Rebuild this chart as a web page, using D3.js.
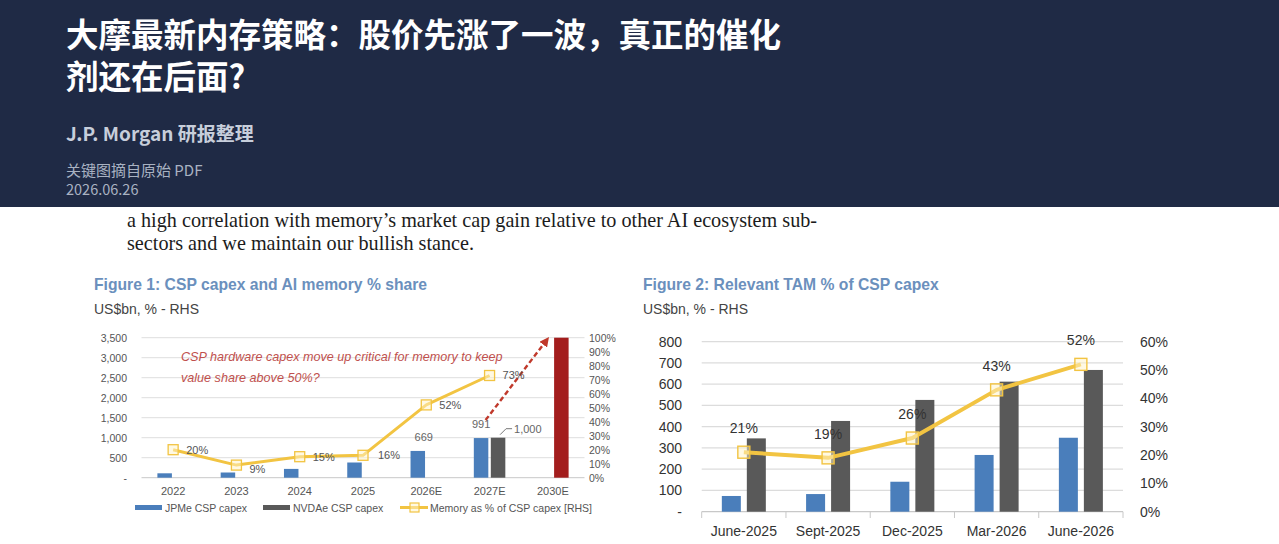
<!DOCTYPE html>
<html>
<head>
<meta charset="utf-8">
<script src="https://cdn.jsdelivr.net/npm/d3@7"></script>
<style>
  html, body { margin: 0; padding: 0; background: #fff; overflow: hidden; }
  svg { display: block; }
</style>
</head>
<body>
<script>
// figure 1 data
var years = ["2022", "2023", "2024", "2025", "2026E", "2027E", "2030E"];
var jpmCapex = [110, 130, 220, 380, 669, 991, null];
var nvdaCapex = [null, null, null, null, null, 1000, 3500];
var jpmLabels = ["", "", "", "", "669", "991", ""];
var nvdaLabels = ["", "", "", "", "", "1,000", ""];
var memShare = [20, 9, 15, 16, 52, 73, null];
var fig1LeftTicks = [0, 500, 1000, 1500, 2000, 2500, 3000, 3500];
var fig1RightTicks = [0, 10, 20, 30, 40, 50, 60, 70, 80, 90, 100];

// figure 2 data
var quarters = ["June-2025", "Sept-2025", "Dec-2025", "Mar-2026", "June-2026"];
var tamBlue = [74, 83, 141, 267, 348];
var capexGray = [345, 427, 526, 612, 667];
var tamShare = [21, 19, 26, 43, 52];
var fig2LeftTicks = [0, 100, 200, 300, 400, 500, 600, 700, 800];
var fig2RightTicks = [0, 10, 20, 30, 40, 50, 60];

var W = 1279, H = 544;
var BLUE = "#4a7ebb", GRAY = "#595959", DARKRED = "#a31d1d", GOLD = "#f2c442";
var SANS = "'Liberation Sans', Arial, sans-serif";
var CJK = "'Noto Sans CJK SC', sans-serif";

var svg = d3.select("body").append("svg").attr("width", W).attr("height", H);

// header band
svg.append("rect").attr("x", 0).attr("y", 0).attr("width", W).attr("height", 207).attr("fill", "#1f2a45");
var head = svg.append("g").attr("font-family", CJK);
var ttl = head.append("text").attr("font-size", 32.5).attr("font-weight", 700).attr("fill", "#fff");
ttl.append("tspan").attr("x", 66).attr("y", 47).text("大摩最新内存策略：股价先涨了一波，真正的催化");
ttl.append("tspan").attr("x", 66).attr("y", 89).text("剂还在后面?");
head.append("text").attr("x", 66).attr("y", 141).attr("font-size", 19).attr("font-weight", 600)
  .attr("fill", "#c7cedb").text("J.P. Morgan 研报整理");
head.append("text").attr("x", 66).attr("y", 176).attr("font-size", 15)
  .attr("fill", "#a9b2c2").text("关键图摘自原始 PDF");
head.append("text").attr("x", 66).attr("y", 195).attr("font-size", 14.5)
  .attr("fill", "#a9b2c2").text("2026.06.26");

// body text
var body = svg.append("g").attr("font-family", "'Liberation Serif', 'Times New Roman', serif")
  .attr("font-size", 20.2).attr("fill", "#1c1c1c");
body.append("text").attr("x", 127).attr("y", 227)
  .text("a high correlation with memory\u2019s market cap gain relative to other AI ecosystem sub-");
body.append("text").attr("x", 127).attr("y", 250).text("sectors and we maintain our bullish stance.");

function figTitle(x, title) {
  svg.append("text").attr("x", x).attr("y", 290).attr("font-family", SANS).attr("font-size", 15.7)
    .attr("font-weight", 700).attr("fill", "#6b90bd").text(title);
  svg.append("text").attr("x", x).attr("y", 314).attr("font-family", SANS).attr("font-size", 14)
    .attr("fill", "#444").text("US$bn, % - RHS");
}
figTitle(94, "Figure 1: CSP capex and AI memory % share");
figTitle(643, "Figure 2: Relevant TAM % of CSP capex");

svg.append("defs").append("marker").attr("id", "arrow").attr("viewBox", "0 0 10 10")
  .attr("refX", 8).attr("refY", 5).attr("markerWidth", 4).attr("markerHeight", 4)
  .attr("orient", "auto").append("path").attr("d", "M0,0L10,5L0,10z").attr("fill", "#c0392b");

// ---------- figure 1 ----------
var x1 = d3.scaleBand().domain(years).range([141.5, 584.5]);
var yL1 = d3.scaleLinear().domain([0, 3500]).range([477.7, 337.7]);
var yR1 = d3.scaleLinear().domain([0, 100]).range([477.7, 337.7]);
var f1 = svg.append("g").attr("font-family", SANS);

f1.selectAll(".grid").data(fig1LeftTicks).enter().append("line")
  .attr("x1", 141.5).attr("x2", 584.5).attr("y1", function(d){ return yL1(d); }).attr("y2", function(d){ return yL1(d); })
  .attr("stroke", function(d){ return d === 0 ? "#c8c8c8" : "#dedede"; }).attr("stroke-width", 1);

f1.append("g").attr("transform", "translate(127,0)")
  .call(d3.axisLeft(yL1).tickValues(fig1LeftTicks).tickSize(0).tickPadding(0)
    .tickFormat(function(d){ return d === 0 ? "-" : d3.format(",")(d); }))
  .call(function(g){ g.select(".domain").remove(); })
  .selectAll("text").attr("font-size", 10.5).attr("fill", "#555").attr("font-family", SANS);

f1.append("g").attr("transform", "translate(589,0)")
  .call(d3.axisRight(yR1).tickValues(fig1RightTicks).tickSize(0).tickPadding(0)
    .tickFormat(function(d){ return d + "%"; }))
  .call(function(g){ g.select(".domain").remove(); })
  .selectAll("text").attr("font-size", 10.5).attr("fill", "#555").attr("font-family", SANS);

f1.append("g").attr("transform", "translate(0,477.7)")
  .call(d3.axisBottom(x1).tickSize(0).tickPadding(10))
  .call(function(g){ g.select(".domain").remove(); })
  .selectAll("text").attr("font-size", 11).attr("fill", "#555").attr("font-family", SANS);

var bw1 = 14.5, off1 = 8.5;
f1.selectAll(".jpm").data(years).enter().filter(function(d, i){ return jpmCapex[i] != null; })
  .append("rect")
  .attr("x", function(d){ return x1(d) + x1.bandwidth() / 2 - off1 - bw1 / 2; })
  .attr("y", function(d){ return yL1(jpmCapex[years.indexOf(d)]); })
  .attr("width", bw1)
  .attr("height", function(d){ return yL1(0) - yL1(jpmCapex[years.indexOf(d)]); })
  .attr("fill", BLUE);

f1.selectAll(".nvda").data(years).enter().filter(function(d, i){ return nvdaCapex[i] != null; })
  .append("rect")
  .attr("x", function(d){ return x1(d) + x1.bandwidth() / 2 + off1 - bw1 / 2; })
  .attr("y", function(d){ return yL1(nvdaCapex[years.indexOf(d)]); })
  .attr("width", bw1)
  .attr("height", function(d){ return yL1(0) - yL1(nvdaCapex[years.indexOf(d)]); })
  .attr("fill", function(d){ return d === "2030E" ? DARKRED : GRAY; });

// bar labels
years.forEach(function(d, i){
  var cx = x1(d) + x1.bandwidth() / 2;
  if (jpmLabels[i]) {
    f1.append("text").attr("x", cx - off1 + (i === 4 ? 6 : 0)).attr("y", yL1(jpmCapex[i]) - 10)
      .attr("text-anchor", "middle").attr("font-size", 11).attr("fill", "#666").text(jpmLabels[i]);
  }
  if (nvdaLabels[i]) {
    var tx = cx + off1, ty = yL1(nvdaCapex[i]);
    f1.append("path").attr("d", "M" + (tx + 2) + "," + (ty - 3) + "L" + (tx + 8) + "," + (ty - 9) + "L" + (tx + 14) + "," + (ty - 9))
      .attr("fill", "none").attr("stroke", "#777").attr("stroke-width", 1);
    f1.append("text").attr("x", tx + 16).attr("y", ty - 5).attr("font-size", 11).attr("fill", "#666").text(nvdaLabels[i]);
  }
});

// red dashed arrow toward 2030E bar
f1.append("line")
  .attr("x1", x1("2027E") + x1.bandwidth() / 2 - 4).attr("y1", yL1(1440))
  .attr("x2", x1("2030E") + x1.bandwidth() / 2 - 5).attr("y2", yL1(3480))
  .attr("stroke", "#c0392b").attr("stroke-width", 2.4).attr("stroke-dasharray", "5,3")
  .attr("marker-end", "url(#arrow)");

var line1 = d3.line()
  .defined(function(d){ return d.v != null; })
  .x(function(d){ return x1(d.k) + x1.bandwidth() / 2; })
  .y(function(d){ return yR1(d.v); });
var mem = years.map(function(k, i){ return { k: k, v: memShare[i] }; });
f1.append("path").datum(mem).attr("d", line1).attr("fill", "none")
  .attr("stroke", GOLD).attr("stroke-width", 3).attr("stroke-linejoin", "round");
var memPts = mem.filter(function(d){ return d.v != null; });
f1.selectAll(".mk").data(memPts).enter().append("rect")
  .attr("x", function(d){ return x1(d.k) + x1.bandwidth() / 2 - 5; })
  .attr("y", function(d){ return yR1(d.v) - 5; })
  .attr("width", 10).attr("height", 10)
  .attr("fill", "rgba(255,244,200,0.5)").attr("stroke", GOLD).attr("stroke-width", 1.3);
f1.selectAll(".ml").data(memPts).enter().append("text")
  .attr("x", function(d){ return x1(d.k) + x1.bandwidth() / 2 + (d.k === "2025" ? 15 : 13); })
  .attr("y", function(d){ return yR1(d.v) + (d.k === "2023" ? 4 : 0); })
  .attr("dy", "0.35em").attr("font-size", 11).attr("fill", "#555")
  .text(function(d){ return d.v + "%"; });

// annotation
var note = f1.append("text").attr("font-size", 12.6).attr("font-style", "italic").attr("fill", "#c0504d");
note.append("tspan").attr("x", 181).attr("y", 361).text("CSP hardware capex move up critical for memory to keep");
note.append("tspan").attr("x", 181).attr("y", 382).text("value share above 50%?");

// legend
var lg = f1.append("g").attr("font-size", 10.5).attr("fill", "#555");
lg.append("rect").attr("x", 135).attr("y", 505).attr("width", 27).attr("height", 5).attr("fill", BLUE);
lg.append("text").attr("x", 165).attr("y", 511.5).text("JPMe CSP capex");
lg.append("rect").attr("x", 263).attr("y", 505).attr("width", 27).attr("height", 5).attr("fill", GRAY);
lg.append("text").attr("x", 293).attr("y", 511.5).text("NVDAe CSP capex");
lg.append("line").attr("x1", 400).attr("x2", 428).attr("y1", 507.5).attr("y2", 507.5).attr("stroke", GOLD).attr("stroke-width", 3);
lg.append("rect").attr("x", 410).attr("y", 503).attr("width", 9).attr("height", 9)
  .attr("fill", "rgba(255,244,200,0.5)").attr("stroke", GOLD).attr("stroke-width", 1.2);
lg.append("text").attr("x", 430).attr("y", 511.5).text("Memory as % of CSP capex [RHS]");

// ---------- figure 2 ----------
var x2 = d3.scaleBand().domain(quarters).range([701.7, 1123]);
var yL2 = d3.scaleLinear().domain([0, 800]).range([511.7, 341.7]);
var yR2 = d3.scaleLinear().domain([0, 60]).range([511.7, 341.7]);
var f2 = svg.append("g").attr("font-family", SANS);

f2.selectAll(".grid").data(fig2LeftTicks).enter().append("line")
  .attr("x1", 701.7).attr("x2", 1123).attr("y1", function(d){ return yL2(d); }).attr("y2", function(d){ return yL2(d); })
  .attr("stroke", function(d){ return d === 0 ? "#c8c8c8" : "#dcdcdc"; }).attr("stroke-width", 1.2);

// category boundary ticks
f2.selectAll(".bt").data(quarters.concat(["end"])).enter().append("line")
  .attr("x1", function(d){ return d === "end" ? 1123 : x2(d); })
  .attr("x2", function(d){ return d === "end" ? 1123 : x2(d); })
  .attr("y1", 511.7).attr("y2", 518).attr("stroke", "#c8c8c8");

f2.append("g").attr("transform", "translate(682,0)")
  .call(d3.axisLeft(yL2).tickValues(fig2LeftTicks).tickSize(0).tickPadding(0)
    .tickFormat(function(d){ return d === 0 ? "-" : d; }))
  .call(function(g){ g.select(".domain").remove(); })
  .selectAll("text").attr("font-size", 14).attr("fill", "#333").attr("font-family", SANS);

f2.append("g").attr("transform", "translate(1140,0)")
  .call(d3.axisRight(yR2).tickValues(fig2RightTicks).tickSize(0).tickPadding(0)
    .tickFormat(function(d){ return d + "%"; }))
  .call(function(g){ g.select(".domain").remove(); })
  .selectAll("text").attr("font-size", 14).attr("fill", "#333").attr("font-family", SANS);

f2.append("g").attr("transform", "translate(0,511.7)")
  .call(d3.axisBottom(x2).tickSize(0).tickPadding(14))
  .call(function(g){ g.select(".domain").remove(); })
  .selectAll("text").attr("font-size", 14).attr("fill", "#333").attr("font-family", SANS);

var bw2 = 19, off2 = 12.5;
f2.selectAll(".tb").data(quarters).enter().append("rect")
  .attr("x", function(d){ return x2(d) + x2.bandwidth() / 2 - off2 - bw2 / 2; })
  .attr("y", function(d, i){ return yL2(tamBlue[i]); })
  .attr("width", bw2)
  .attr("height", function(d, i){ return yL2(0) - yL2(tamBlue[i]); })
  .attr("fill", BLUE);
f2.selectAll(".cg").data(quarters).enter().append("rect")
  .attr("x", function(d){ return x2(d) + x2.bandwidth() / 2 + off2 - bw2 / 2; })
  .attr("y", function(d, i){ return yL2(capexGray[i]); })
  .attr("width", bw2)
  .attr("height", function(d, i){ return yL2(0) - yL2(capexGray[i]); })
  .attr("fill", GRAY);

var tam = quarters.map(function(k, i){ return { k: k, v: tamShare[i] }; });
var line2 = d3.line()
  .x(function(d){ return x2(d.k) + x2.bandwidth() / 2; })
  .y(function(d){ return yR2(d.v); });
f2.append("path").datum(tam).attr("d", line2).attr("fill", "none")
  .attr("stroke", GOLD).attr("stroke-width", 4).attr("stroke-linejoin", "round");
f2.selectAll(".mk").data(tam).enter().append("rect")
  .attr("x", function(d){ return x2(d.k) + x2.bandwidth() / 2 - 6; })
  .attr("y", function(d){ return yR2(d.v) - 6; })
  .attr("width", 12).attr("height", 12)
  .attr("fill", "rgba(255,244,200,0.5)").attr("stroke", GOLD).attr("stroke-width", 1.4);
f2.selectAll(".tl").data(tam).enter().append("text")
  .attr("x", function(d){ return x2(d.k) + x2.bandwidth() / 2; })
  .attr("y", function(d){ return yR2(d.v) - 24; })
  .attr("dy", "0.35em").attr("text-anchor", "middle").attr("font-size", 14).attr("fill", "#333")
  .text(function(d){ return d.v + "%"; });
</script>
</body>
</html>
